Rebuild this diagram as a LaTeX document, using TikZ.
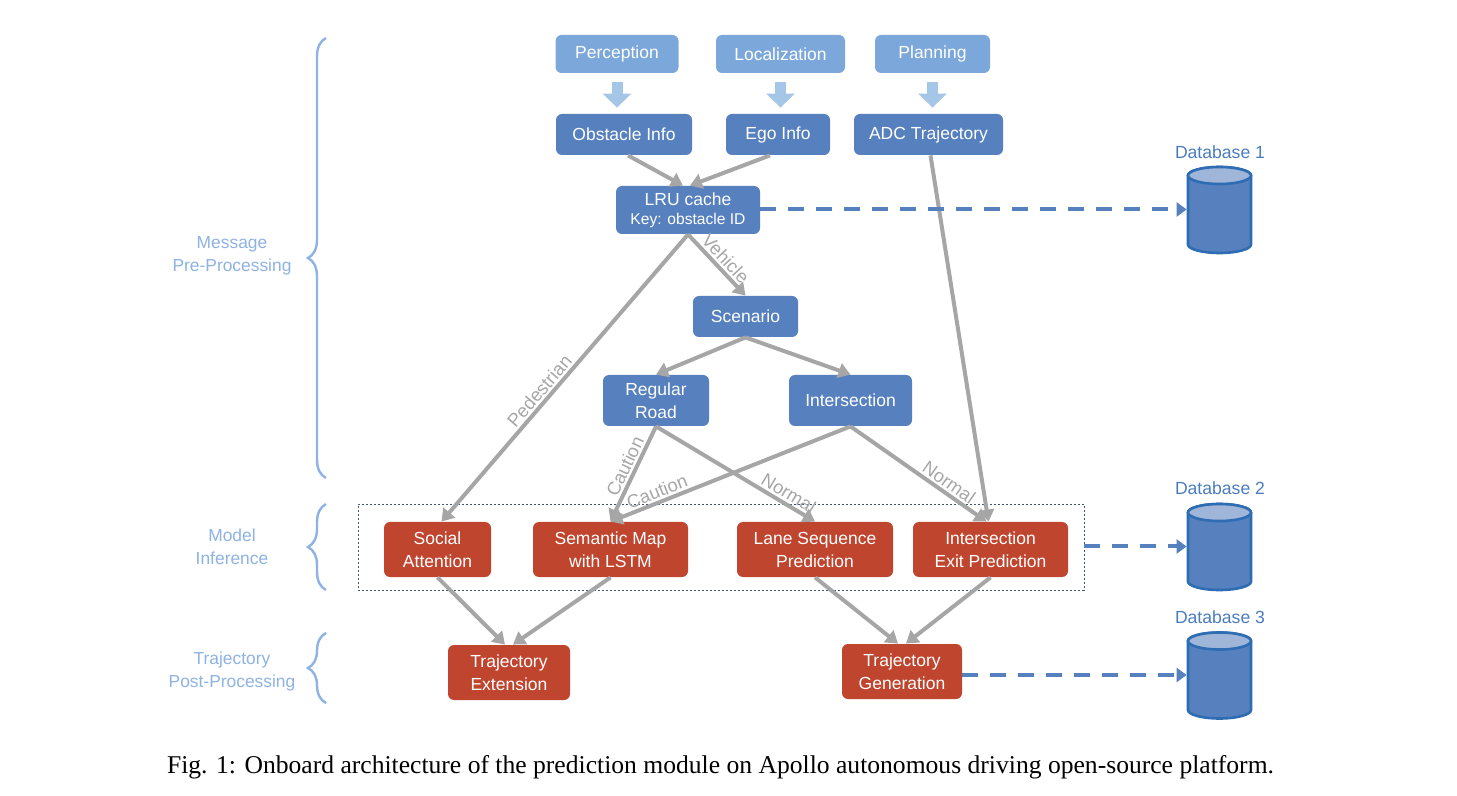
\documentclass[tikz,border=0pt]{standalone}
\usepackage{fontspec}
\setmainfont{Liberation Serif}
\setsansfont{Liberation Sans}
\usetikzlibrary{arrows.meta,decorations.pathreplacing,calc}
\definecolor{srcblue}{RGB}{124,167,219}
\definecolor{boxblue}{RGB}{86,128,190}
\definecolor{boxred}{RGB}{192,69,46}
\definecolor{flowgray}{RGB}{166,166,166}
\definecolor{fatblue}{RGB}{166,198,232}
\definecolor{sidebl}{RGB}{142,178,227}
\definecolor{dblabel}{RGB}{74,124,192}
\definecolor{dbtopc}{RGB}{160,182,216}
\definecolor{dbline}{RGB}{46,109,180}
\definecolor{dotcol}{RGB}{68,84,106}
\newcommand{\dbcyl}[1]{%
  \begin{scope}[shift={(#1.center)}]
    \filldraw[dbbody] (-31.5,34) -- (-31.5,-35)
      arc[start angle=180,end angle=360,x radius=15.75pt,y radius=4.25pt]
      -- (31.5,34)
      arc[start angle=0,end angle=180,x radius=15.75pt,y radius=4.25pt] -- cycle;
    \filldraw[dbtop] (0,34) ellipse[x radius=15.75pt,y radius=4.25pt];
  \end{scope}}
\begin{document}
\begin{tikzpicture}[x=0.5pt,y=0.5pt,
  box/.style={rounded corners=3pt, inner sep=0pt, align=center, text=white,
    font=\sffamily\fontsize{8.75}{11.5}\selectfont},
  srcbox/.style={box, fill=srcblue, minimum height=19pt},
  bluebox/.style={box, fill=boxblue},
  redbox/.style={box, fill=boxred, minimum height=27.5pt},
  flow/.style={draw=flowgray, line width=2pt, -{Triangle[length=6pt,width=7.5pt]}},
  lbl/.style={sloped, above, text=flowgray, font=\sffamily\fontsize{9.2}{10}\selectfont, inner sep=1pt},
  fat/.style={draw=fatblue, line width=5.5pt, -{Triangle[length=7pt,width=14pt]}},
  dbarrow/.style={draw=boxblue, line width=2pt, dash pattern=on 8pt off 6pt,
    -{Triangle[length=5pt,width=7pt]}},
  dbnode/.style={minimum width=32.5pt, minimum height=43.5pt, inner sep=0pt},
  dbbody/.style={fill=boxblue, draw=dbline, line width=1.3pt},
  dbtop/.style={fill=dbtopc, draw=dbline, line width=1.3pt},
  dbtext/.style={text=dblabel, font=\sffamily\fontsize{8.8}{10}\selectfont},
  bracestyle/.style={draw=sidebl, line width=1.2pt, decorate, decoration={brace, amplitude=9pt}},
  side/.style={text=sidebl, align=center, font=\sffamily\fontsize{8.7}{11.5}\selectfont}
]
\useasboundingbox (0,0) rectangle (1457,-796);

% model inference frame
\node[draw=dotcol, dash pattern=on 1pt off 1pt, line width=0.4pt, minimum width=363pt,
  minimum height=43pt, inner sep=0pt] (mbox) at (721,-547) {};

% source boxes
\node[srcbox, minimum width=61.5pt] (perc) at (617,-54) {Perception};
\node[srcbox, minimum width=64.5pt] (loc) at (780.5,-54) {Localization};
\node[srcbox, minimum width=57.5pt] (plan) at (932.5,-54) {Planning};

% blue boxes
\node[bluebox, minimum width=68pt, minimum height=20.5pt] (obst) at (624,-134.5) {Obstacle Info};
\node[bluebox, minimum width=52pt, minimum height=20.5pt] (ego) at (778,-134.5) {Ego Info};
\node[bluebox, minimum width=74.5pt, minimum height=20.5pt] (adc) at (928.5,-134.5) {ADC Trajectory};
\node[bluebox, minimum width=72pt, minimum height=24pt] (lru) at (688,-210)
  {LRU cache\\[-2pt]{\fontsize{7.8}{9}\selectfont Key: obstacle ID}};
\node[bluebox, minimum width=52.5pt, minimum height=20.5pt] (scen) at (745.5,-316.5) {Scenario};
\node[bluebox, minimum width=53pt, minimum height=25.5pt] (reg) at (656,-400.5) {Regular\\Road};
\node[bluebox, minimum width=61.5pt, minimum height=25.5pt] (inter) at (850.5,-400.5) {Intersection};

% red boxes
\node[redbox, minimum width=53.5pt] (social) at (437.5,-549.5) {Social\\Attention};
\node[redbox, minimum width=77.5pt] (sem) at (610.5,-549.5) {Semantic Map\\with LSTM};
\node[redbox, minimum width=78pt] (lane) at (815,-549.5) {Lane Sequence\\Prediction};
\node[redbox, minimum width=77.5pt] (iexit) at (990.5,-549.5) {Intersection\\Exit Prediction};
\node[redbox, minimum width=61pt] (text) at (509,-672.5) {Trajectory\\Extension};
\node[redbox, minimum width=60pt] (tgen) at (902,-671.5) {Trajectory\\Generation};

% databases
\node[dbnode] (db1) at (1219.5,-209.5) {};
\node[dbnode] (db2) at (1219.5,-546.5) {};
\node[dbnode] (db3) at (1219.5,-675) {};
\dbcyl{db1}\dbcyl{db2}\dbcyl{db3}
\node[dbtext] (db1l) at (1220,-152) {Database 1};
\node[dbtext] (db2l) at (1220,-488) {Database 2};
\node[dbtext] (db3l) at (1220,-617) {Database 3};

% fat arrows
\draw[fat] ([yshift=-4.5pt]perc.south) -- ([yshift=3pt]perc.south |- obst.north);
\draw[fat] ([yshift=-4.5pt]loc.south) -- ([yshift=3pt]loc.south |- ego.north);
\draw[fat] ([yshift=-4.5pt]plan.south) -- ([yshift=3pt]plan.south |- adc.north);

% flow arrows
\draw[flow] ([xshift=2pt]obst.south) -- ([xshift=-2.5pt]lru.north);
\draw[flow] ([xshift=-4pt]ego.south) -- ([xshift=1pt]lru.north);
\draw[flow] (lru.south) -- node[lbl, pos=0.52] {Vehicle} (scen.north);
\draw[flow] (lru.south) -- node[lbl, pos=0.57] {Pedestrian} ([xshift=2pt]social.north);
\draw[flow] (scen.south) -- (reg.north);
\draw[flow] (scen.south) -- (inter.north);
\draw[flow] (reg.south) -- node[lbl, pos=0.47] {Caution} (sem.north);
\draw[flow] (reg.south) -- node[lbl, pos=0.8] {Normal} (lane.north);
\draw[flow] (inter.south) -- node[lbl, pos=0.79] {Caution} (sem.north);
\draw[flow] (inter.south) -- node[lbl, pos=0.68] {Normal} ([xshift=-2pt]iexit.north);
\draw[flow] ([xshift=1pt]adc.south) -- ([xshift=-1pt]iexit.north);
\draw[flow] (social.south) -- ([xshift=-2pt]text.north);
\draw[flow] (sem.south) -- ([xshift=2pt]text.north);
\draw[flow] (lane.south) -- ([xshift=-2pt]tgen.north);
\draw[flow] (iexit.south) -- ([xshift=2pt]tgen.north);

% database arrows
\draw[dbarrow] (lru.east |- db1.west) -- (db1.west);
\draw[dbarrow] (mbox.east |- db2.west) -- (db2.west);
\draw[dbarrow] (tgen.east |- db3.west) -- (db3.west);

% braces and side labels
\draw[bracestyle] (326,-478) -- (326,-38);
\draw[bracestyle] (326,-590) -- (326,-504);
\draw[bracestyle] (326,-703) -- (326,-633);
\node[side] (lmsg) at (232,-256) {Message\\Pre-Processing};
\node[side] (lmod) at (232,-546.5) {Model\\Inference};
\node[side] (ltraj) at (232,-671.5) {Trajectory\\Post-Processing};

% caption
\node[font=\rmfamily\fontsize{12.8}{14}\selectfont, inner sep=0pt] (cap) at (720.5,-767)
  {Fig. 1: Onboard architecture of the prediction module on Apollo autonomous driving open-source platform.};
\end{tikzpicture}
\end{document}
